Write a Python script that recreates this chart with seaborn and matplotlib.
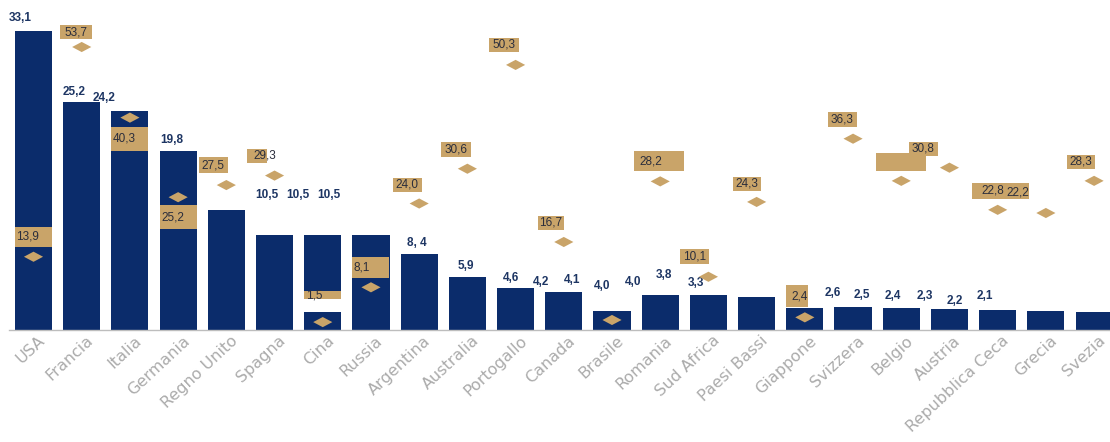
import numpy as np
import pandas as pd
import seaborn as sns
import matplotlib.pyplot as plt
from matplotlib.path import Path
from matplotlib.patches import Rectangle
import matplotlib.transforms as mtrans

# ---------------- data ----------------
countries = ["USA", "Francia", "Italia", "Germania", "Regno Unito", "Spagna", "Cina",
             "Russia", "Argentina", "Australia", "Portogallo", "Canada", "Brasile",
             "Romania", "Sud Africa", "Paesi Bassi", "Giappone", "Svizzera", "Belgio",
             "Austria", "Repubblica Ceca", "Grecia", "Svezia"]
bar_values = [33.1, 25.2, 24.2, 19.8, 13.3, 10.5, 10.5, 10.5, 8.4, 5.9, 4.6, 4.2, 2.1,
              3.9, 3.9, 3.7, 2.4, 2.5, 2.4, 2.3, 2.2, 2.1, 2.0]
diamond_values = [13.9, 53.7, 40.3, 25.2, 27.5, 29.3, 1.5, 8.1, 24.0, 30.6, 50.3, 16.7, 1.9,
                  28.2, 10.1, 24.3, 2.4, 36.3, 28.3, 30.8, 22.8, 22.2, 28.3]
diamond_label_texts = ["13,9", "53,7", "40,3", "25,2", "27,5", "29,3", "1,5", "8,1", "24,0",
                       "30,6", "50,3", "16,7", "", "28,2", "10,1", "24,3", "2,4", "36,3", "",
                       "30,8", "22,8", "22,2", "28,3"]
bar_label_values = [33.1, 25.2, 24.2, 19.8, 10.5, 10.5, 10.5, 8.4, 5.9, 4.6, 4.2, 4.1, 4.0,
                    4.0, 3.8, 3.3, 2.6, 2.5, 2.4, 2.3, 2.2, 2.1]
bar_label_texts = ["33,1", "25,2", "24,2", "19,8", "10,5", "10,5", "10,5", "8, 4", "5,9", "4,6",
                   "4,2", "4,1", "4,0", "4,0", "3,8", "3,3", "2,6", "2,5", "2,4", "2,3", "2,2", "2,1"]

# ---------------- layout / style ----------------
NAVY = "#0b2c6b"
GOLD = "#c9a469"
LABEL_NAVY = "#1d3563"
BOX_TEXT = "#2a2d3c"
TICK_GRAY = "#ababab"

W, H = 1110, 442
L_PX, R_PX, T_PX, B_PX = 9.4, 1110.0, 10.0, 330.0
XMIN, XMAX = -0.5, 22.33
Y1MAX = 320 / 9.03
Y2MAX = 320 / 5.27

# where the (misplaced) bar value labels sit: category units and pixel lift above value
bar_label_pos = [-0.28, 0.84, 1.46, 2.87, 4.84, 5.49, 6.13, 7.96, 8.97, 9.91, 10.53, 11.17,
                 11.79, 12.44, 13.08, 13.74, 16.57, 17.19, 17.83, 18.48, 19.12, 19.74]
bar_label_lift = [13, 10, 13.5, 11, 40, 40, 40, 11, 11, 10.5, 10, 13, 8, 12, 20.7, 17,
                  13.5, 12.4, 12, 13, 9, 15]

# diamond label boxes: (dx, dy, w, h, text_mode, text_dx) in screen pixels (dy>0 = down)
# text_mode: 'c' centred, 'l' left inside bar-wide box, 'n' text without box
box_style = [
    (0, -20, 37, 20, 'l', 0), (-6, -15, 32, 14, 'c', 0), (0, 21, 37, 24, 'l', 0),
    (0, 20, 37, 24, 'l', 0), (-13, -20, 29, 16, 'c', 0), (-18, -20, 20, 14, 'c', 8),
    (0, -27, 37, 9, 'l', 0), (0, -20, 37, 21, 'l', 0), (-12, -19, 29, 14, 'c', 0),
    (-11, -19, 30, 15, 'c', 0), (-12, -20, 30, 14, 'c', 0), (-13, -19, 26, 14, 'c', 0),
    None, (-1, -20, 50, 20, 'c', -8), (-14, -20, 29, 15, 'c', 0), (-10, -18, 28, 14, 'c', 0),
    (-8, -21, 22, 22, 'c', 3), (-11, -19, 29, 15, 'c', 0), (0, -19, 50, 18, 'c', 0),
    (-26, -19, 29, 14, 'c', 0), (3, -19, 57, 16, 'c', -8), (-28, -21, 0, 0, 'n', 0),
    (-13, -19, 28, 14, 'c', 0),
]

sns.set_theme(style="white")
plt.rcParams["font.family"] = ["DejaVu Sans"]

fig = plt.figure(figsize=(W / 100, H / 100), dpi=100)
ax = fig.add_axes([L_PX / W, (H - B_PX) / H, (R_PX - L_PX) / W, (B_PX - T_PX) / H])

df = pd.DataFrame({"country": countries, "value": bar_values})
sns.barplot(data=df, x="country", y="value", ax=ax, color=NAVY, saturation=1,
            width=0.77, edgecolor="none", linewidth=0, errorbar=None)
ax.set_xlim(XMIN, XMAX)
ax.set_ylim(0, Y1MAX)

cpp = (XMAX - XMIN) / (R_PX - L_PX)   # category per pixel
u1 = Y1MAX / (B_PX - T_PX)
u2 = Y2MAX / (B_PX - T_PX)

lab_font = ["Liberation Sans", "DejaVu Sans"]
for x, v, t, lift in zip(bar_label_pos, bar_label_values, bar_label_texts, bar_label_lift):
    ax.text(x, v + lift * u1, t, ha="center", va="center", fontsize=8.5, fontweight="bold",
            color=LABEL_NAVY, family=lab_font, zorder=5)

# secondary axis with diamonds
ax2 = ax.twinx()
ax2.set_ylim(0, Y2MAX)
ax2.set_xlim(XMIN, XMAX)

for i, (v, t, st) in enumerate(zip(diamond_values, diamond_label_texts, box_style)):
    if st is None:
        continue
    dx, dy, w, h, mode, tdx = st
    cx = i + dx * cpp
    cy = v - dy * u2
    if mode != 'n':
        ax2.add_patch(Rectangle((cx - w * cpp / 2, cy - h * u2 / 2), w * cpp, h * u2,
                                facecolor=GOLD, edgecolor="none", zorder=2))
    if t:
        if mode == 'l':
            ax2.text(cx - w * cpp / 2 + 1.5 * cpp, cy, t, ha="left", va="center", fontsize=8.5,
                     color=BOX_TEXT, family=lab_font, zorder=3)
        else:
            ax2.text(cx + tdx * cpp, cy, t, ha="center", va="center", fontsize=8.5,
                     color=BOX_TEXT, family=lab_font, zorder=3)

# white gap inside the Cina bar
ci = countries.index("Cina")
ax2.add_patch(Rectangle((ci - 18.5 * cpp, diamond_values[ci] + 10 * u2), 37 * cpp, 13 * u2,
                        facecolor="white", edgecolor="none", zorder=2))

diamond = Path([(-1, 0), (0, 0.53), (1, 0), (0, -0.53), (-1, 0)],
               [Path.MOVETO, Path.LINETO, Path.LINETO, Path.LINETO, Path.CLOSEPOLY])
sns.scatterplot(x=np.arange(len(countries)), y=diamond_values, ax=ax2, marker=diamond,
                s=190, color=GOLD, edgecolor="none", linewidth=0, zorder=4, legend=False)
ax2.set_xlim(XMIN, XMAX)
ax2.set_ylim(0, Y2MAX)

for a in (ax, ax2):
    for s in ("top", "right", "left"):
        a.spines[s].set_visible(False)
    a.set_yticks([])
    a.set_ylabel("")
ax2.spines["bottom"].set_visible(False)
ax.spines["bottom"].set_color("#bdbdbd")
ax.spines["bottom"].set_linewidth(1.0)
ax.set_xlabel("")
ax.tick_params(axis="x", length=0, pad=0)
ax.set_xticks(range(len(countries)))
ax.set_xticklabels(countries, rotation=43, ha="right", va="top", rotation_mode="anchor",
                   color=TICK_GRAY, fontsize=11.5, family=["DejaVu Sans"])
offset = mtrans.ScaledTranslation(4 / 100, -3 / 100, fig.dpi_scale_trans)
for lbl in ax.get_xticklabels():
    lbl.set_transform(lbl.get_transform() + offset)

fig.savefig("out.png", dpi=100, facecolor="white")
